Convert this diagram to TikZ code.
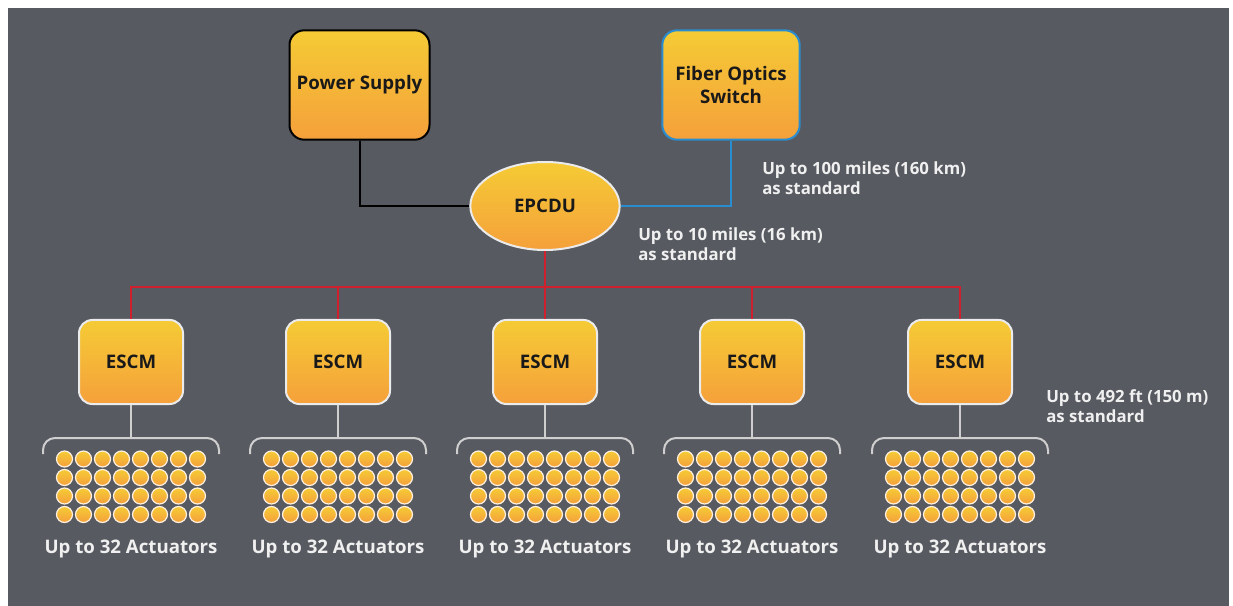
\documentclass[tikz,border=0pt]{standalone}
\usepackage{fontspec}
\setmainfont{Open Sans}
\usetikzlibrary{calc, shapes.geometric}
\definecolor{bggray}{HTML}{575A61}
\definecolor{boxtop}{HTML}{F5CB35}
\definecolor{boxbot}{HTML}{F5A03B}
\definecolor{fibreblue}{HTML}{2A8DCF}
\definecolor{busred}{HTML}{D0202E}
\definecolor{stemgray}{HTML}{CFCFCF}
\definecolor{annotext}{HTML}{F0F0F0}

\begin{document}
\begin{tikzpicture}[
    x=0.75pt, y=-0.75pt,
    unit/.style={
      rectangle, rounded corners=11pt, top color=boxtop, bottom color=boxbot,
      line width=1.5pt, align=center, text=black!90,
      font=\bfseries\fontsize{14}{17}\selectfont},
    escmbox/.style={
      unit, draw=white!92!black, rounded corners=10pt,
      minimum width=78pt, minimum height=63pt},
    act/.style={
      circle, inner sep=0pt, minimum size=12pt, line width=0.9pt,
      draw=white!88!orange, top color=boxtop, bottom color=boxbot},
    link/.style={line width=1.5pt},
    brace/.style={line width=1.5pt, draw=stemgray, rounded corners=9pt},
    anno/.style={
      anchor=north west, inner sep=0pt, align=left, text=annotext,
      font=\bfseries\fontsize{12.6}{15}\selectfont},
    grouplbl/.style={
      text=annotext, font=\bfseries\fontsize{14}{17}\selectfont},
  ]

  % ── Background ──
  \useasboundingbox (0,0) rectangle (1233,606);
  \fill[bggray] (8,8) rectangle (1229,606);

  % ── Top row ──
  \node[unit, draw=black, minimum width=105pt, minimum height=82pt]
    (ps) at (359.5,85) {Power Supply};
  \node[unit, draw=fibreblue, minimum width=103pt, minimum height=82pt]
    (fos) at (731,85) {Fiber Optics\\Switch};

  \node[ellipse, draw=white!92!black, line width=1.5pt,
        top color=boxtop, bottom color=boxbot,
        minimum width=112pt, minimum height=66pt, inner sep=0pt,
        font=\bfseries\fontsize{14}{17}\selectfont, text=black!90]
    (epcdu) at (545,206) {EPCDU};

  \draw[link, black] (ps.south) |- (epcdu.west);
  \draw[link, fibreblue] (fos.south) |- (epcdu.east);

  % ── ESCM row ──
  \foreach \i/\x in {1/131, 2/338, 3/545, 4/752, 5/960}
    \node[escmbox] (escm\i) at (\x,362) {ESCM};

  \coordinate (bus) at (545,287);
  \draw[link, busred] (epcdu.south) -- (bus);
  \draw[link, busred] (escm1.north) |- (bus) -| (escm5.north);
  \foreach \i in {2,3,4}
    \draw[link, busred] (escm\i.north) -- (escm\i.north |- bus);

  % ── Actuator groups ──
  \foreach \i in {1,...,5} {
    \coordinate (br\i) at (escm\i.south |- 0,438);
    \draw[link, stemgray] (escm\i.south) -- (br\i);
    \draw[brace] ($(br\i)+(-88,16)$) -- ($(br\i)+(-88,0)$)
      -- ($(br\i)+(88,0)$) -- ($(br\i)+(88,16)$);
    \foreach \c in {0,...,7}
      \foreach \r in {0,...,3}
        \node[act] (a-\i-\c-\r) at ($(br\i)+(-66.5+19*\c,21+18.5*\r)$) {};
    \node[grouplbl] (lbl\i) at ($(br\i)+(0,111)$) {Up to 32 Actuators};
  }

  % ── Distance notes ──
  \node[anno] (d1) at (762,161) {Up to 100 miles (160 km)\\as standard};
  \node[anno] (d2) at (638,227) {Up to 10 miles (16 km)\\as standard};
  \node[anno] (d3) at (1046,389) {Up to 492 ft (150 m)\\as standard};

\end{tikzpicture}
\end{document}
